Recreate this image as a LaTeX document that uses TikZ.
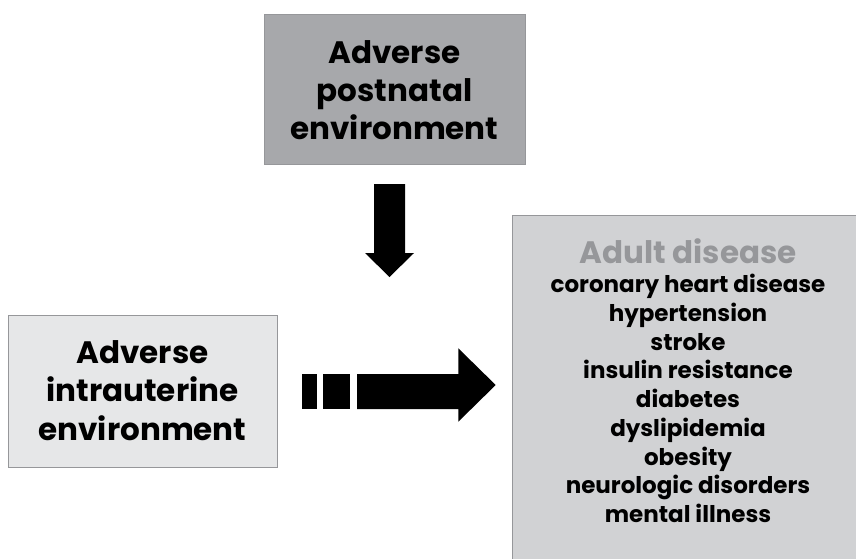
\documentclass[tikz,border=0pt]{standalone}
\usepackage{fontspec}
\setmainfont{Poppins}
\definecolor{topfill}{RGB}{167,168,171}
\definecolor{leftfill}{RGB}{230,231,232}
\definecolor{rightfill}{RGB}{209,210,212}
\definecolor{boxline}{RGB}{150,151,154}
\definecolor{titlegray}{RGB}{150,151,154}
\begin{document}
\begin{tikzpicture}[x=1pt,y=-1pt,
  box/.style={rectangle, draw=boxline, line width=1pt, inner sep=0pt},
  bigtxt/.style={anchor=base, inner sep=0pt, font=\fontsize{31}{38}\selectfont\bfseries},
  listtxt/.style={anchor=base, inner sep=0pt, font=\fontsize{23}{28}\selectfont\bfseries},
  titletxt/.style={anchor=base, inner sep=0pt, text=titlegray, font=\fontsize{31}{34}\selectfont\bfseries},
  blockarrow/.style={fill=black, draw=none}]
\useasboundingbox (0,0) rectangle (856,558);
% boxes
\node[box, fill=topfill, minimum width=261pt, minimum height=150pt] (post) at (394.5,89) {};
\node[box, fill=leftfill, minimum width=269pt, minimum height=152pt] (intra) at (142.5,391.8) {};
\node[box, fill=rightfill, minimum width=360pt, minimum height=360pt] (adult) at (692,395) {};
% top box text
\node[bigtxt] (p1) at (394.5,63.3) {Adverse};
\node[bigtxt] (p2) at (394.5,101) {postnatal};
\node[bigtxt] (p3) at (394.5,139) {environment};
% left box text
\node[bigtxt] (i1) at (142.5,363.3) {Adverse};
\node[bigtxt] (i2) at (142.5,401.7) {intrauterine};
\node[bigtxt] (i3) at (142.5,440) {environment};
% right box text
\node[titletxt] (title) at (688,263.3) {Adult disease};
\foreach \t [count=\i] in {coronary heart disease, hypertension, stroke, insulin resistance, diabetes, dyslipidemia, obesity, neurologic disorders, mental illness}
  \node[listtxt] (d\i) at (688,{292.7+28.75*(\i-1)}) {\t};
% down arrow
\coordinate (dtip) at (389.5,277);
\fill[blockarrow] (374,184) -- (405,184) -- (405,253) -- (414,253) -- (dtip) -- (365,253) -- (374,253) -- cycle;
% right dashed block arrow
\coordinate (rtip) at (495.7,385);
\fill[blockarrow] (302.3,374) rectangle (317,409);
\fill[blockarrow] (323,374) rectangle (350,409);
\fill[blockarrow] (357,374) -- (458.3,374) -- (458.3,348.3) -- (rtip) -- (458.3,421.7) -- (458.3,409) -- (357,409) -- cycle;
\end{tikzpicture}
\end{document}
